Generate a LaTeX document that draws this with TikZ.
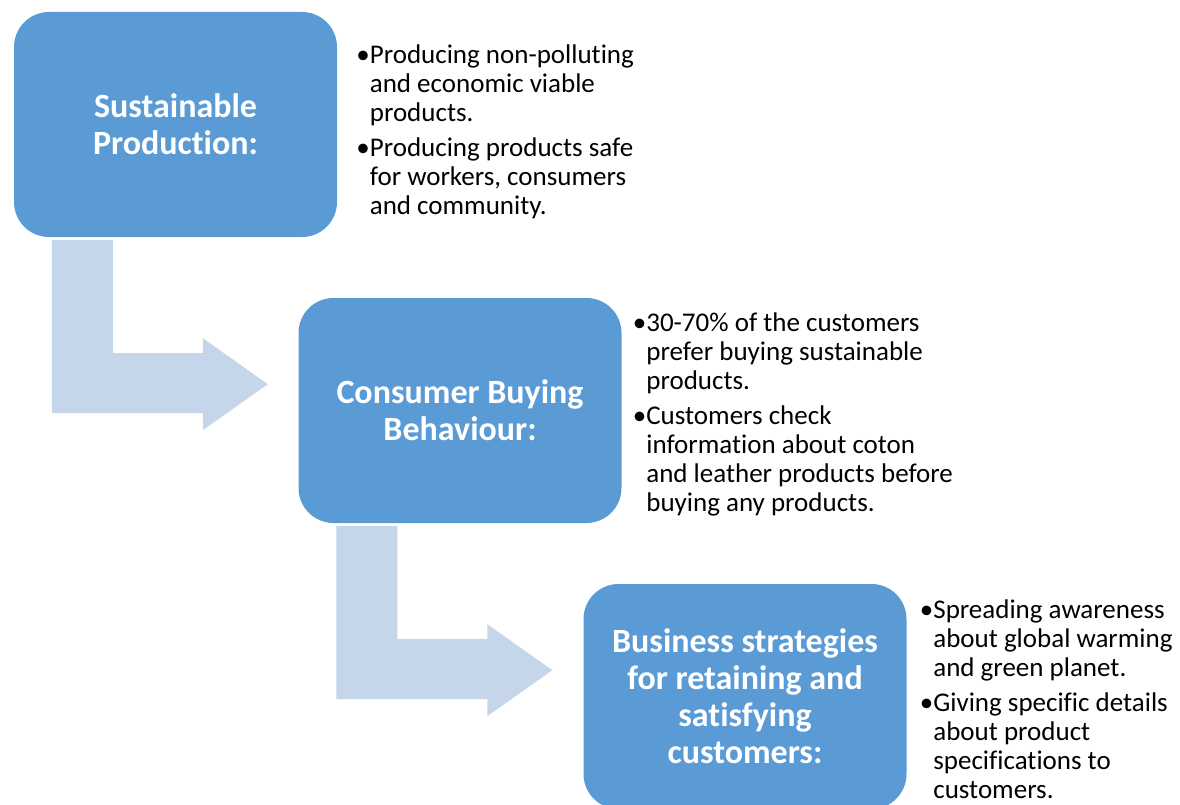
\documentclass[tikz,border=0pt]{standalone}
\usepackage{fontspec}
\setmainfont{Carlito}[Ligatures=NoCommon]
\usepackage{tikz}
\usetikzlibrary{positioning}
\definecolor{boxblue}{RGB}{91,155,213}
\definecolor{arrowblue}{RGB}{197,213,234}
\tikzset{%
  stage/.style = {rectangle,rounded corners=35pt,fill=boxblue,text=white,
        minimum width=323pt,minimum height=225pt,
        align=center,font=\fontsize{34}{37}\selectfont\bfseries},
  notes/.style = {anchor=west,inner sep=0pt,align=left,
        font=\fontsize{27}{29}\selectfont},
  bentarrow/.style = {fill=arrowblue}
}
\newcommand{\bl}{\phantom{\textbullet}}

\begin{document}
\begin{tikzpicture}[x=1pt,y=-1pt]
                    \clip (0,0) rectangle (1180,805);
                    \node[stage] (sp) at (175.5,124.5) {Sustainable\\Production:};
                    \node[stage] (cb) at (460,410.5) {Consumer Buying\\Behaviour:};
                    \node[stage] (bs) at (745,696.5) {Business strategies\\for retaining and\\satisfying\\customers:};

                    \node[notes] (spn) [right=19pt of sp,yshift=-7pt] {\textbullet Producing non-polluting\\ \bl and economic viable\\ \bl products.\\[6pt]
                        \textbullet Producing products safe\\ \bl for workers, consumers\\ \bl and community.};
                    \node[notes] (cbn) [right=11pt of cb,yshift=-4pt] {\textbullet 30-70\% of the customers\\ \bl prefer buying sustainable\\ \bl products.\\[6pt]
                        \textbullet Customers check\\ \bl information about coton\\ \bl and leather products before\\ \bl buying any products.};
                    \node[notes] (bsn) [right=13pt of bs,yshift=-3pt] {\textbullet Spreading awareness\\ \bl about global warming\\ \bl and green planet.\\[6pt]
                        \textbullet Giving specific details\\ \bl about product\\ \bl specifications to\\ \bl customers.};

                    \fill[bentarrow] ([shift={(38,3)}]sp.south west) -- ++(61,0) -- ++(0,113) -- ++(90,0) -- ++(0,-15)
                        -- ++(65,46) -- ++(-65,46) -- ++(0,-17) -- ++(-151,0) -- cycle;
                    \fill[bentarrow] ([shift={(38,3)}]cb.south west) -- ++(61,0) -- ++(0,113) -- ++(90,0) -- ++(0,-15)
                        -- ++(65,46) -- ++(-65,46) -- ++(0,-17) -- ++(-151,0) -- cycle;
                 \end{tikzpicture}
\end{document}
